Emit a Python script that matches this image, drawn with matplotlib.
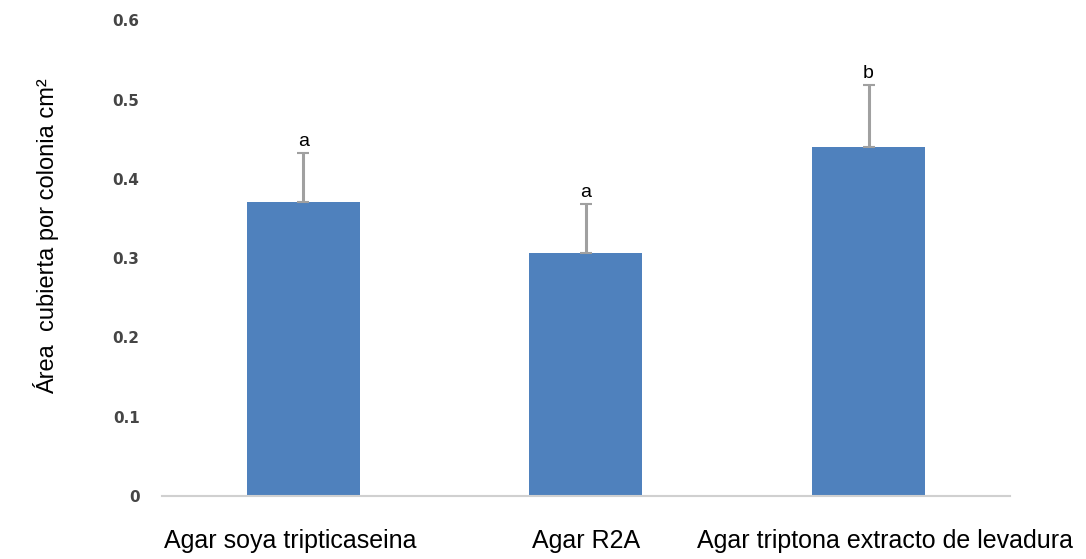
import matplotlib
matplotlib.use("Agg")
import matplotlib.pyplot as plt
import matplotlib.transforms as mtransforms
import numpy as np

categories = ["Agar soya tripticaseina", "Agar R2A", "Agar triptona extracto de levadura"]
values = [0.371, 0.306, 0.440]
errors = [0.061, 0.062, 0.078]
letters = ["a", "a", "b"]
yticks = [0, 0.1, 0.2, 0.3, 0.4, 0.5, 0.6]
ytick_labels = ["0", "0.1", "0.2", "0.3", "0.4", "0.5", "0.6"]

fig = plt.figure(figsize=(10.86, 5.59), dpi=100)
ax = fig.add_axes([0.149, 0.1127, 0.781, 0.851])

x = np.arange(len(categories))
ax.bar(x, values, width=0.4, color="#4F81BD", zorder=2)
ax.errorbar(x, values, yerr=[np.zeros(len(errors)), errors], fmt="none",
            ecolor="#A0A0A0", elinewidth=2.2, capsize=4, capthick=1.5, zorder=3)
for xi, v, e, l in zip(x, values, errors, letters):
    ax.text(xi, v + e + 0.004, l, ha="center", va="bottom",
            fontsize=14, family="Liberation Sans", color="black")

ax.set_xlim(-0.5, 2.5)
ax.set_ylim(0, 0.6)
ax.set_yticks(yticks)
ax.set_yticklabels(ytick_labels, fontsize=11, color="#454545", fontweight="bold")
ax.set_xticks(x)
ax.set_xticklabels(categories, fontsize=18, family="Liberation Sans", color="black")
ax.tick_params(axis="y", length=0, pad=16)
ax.tick_params(axis="x", length=0, pad=24)
# small horizontal shifts of category labels as in the reference layout
shifts_px = [-13, 0, 16]
for lab, dx in zip(ax.get_xticklabels(), shifts_px):
    lab.set_transform(lab.get_transform() +
                      mtransforms.ScaledTranslation(dx / 100, 0, fig.dpi_scale_trans))
for s in ["top", "right", "left"]:
    ax.spines[s].set_visible(False)
ax.spines["bottom"].set_color("#D0D0D0")
ax.spines["bottom"].set_linewidth(1.5)

fig.text(46 / 1086, 1 - 236 / 559, "Área  cubierta por colonia cm²", rotation=90,
         ha="center", va="center", fontsize=17, family="Liberation Sans")

fig.savefig("out.png", dpi=100)
